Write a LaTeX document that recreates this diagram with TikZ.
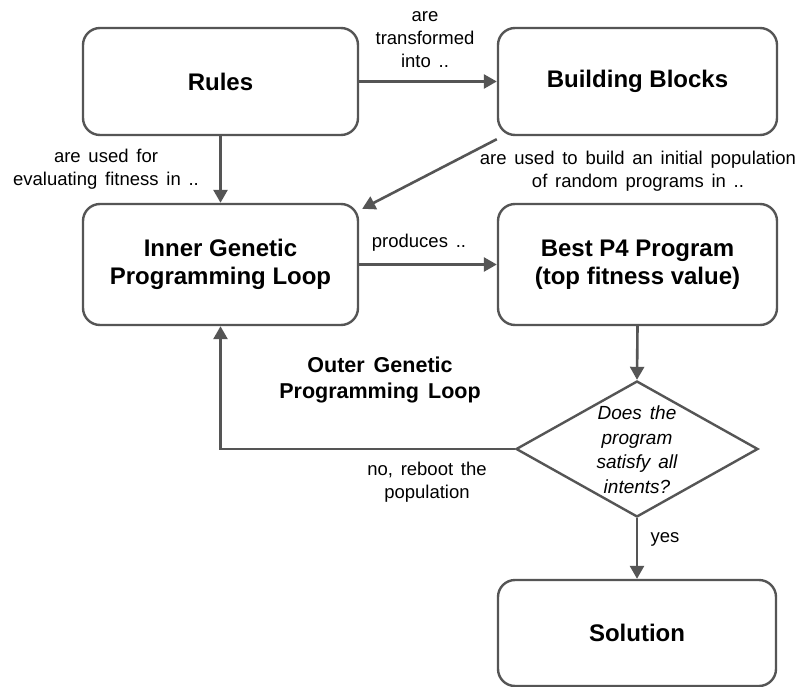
\documentclass[tikz,border=0pt]{standalone}
\usepackage{fontspec}
\setmainfont{Liberation Sans}
\usetikzlibrary{shapes.geometric,arrows.meta}
\definecolor{edgegray}{HTML}{555555}
\newcommand\widewordgap{\spaceskip=0.42em plus 0.1em\relax}
\tikzset{
  every picture/.style={x=1pt,y=-1pt},
  stepbox/.style={draw=edgegray,line width=2.4pt,rounded corners=17pt,
    align=center,font=\fontsize{24}{28}\selectfont\bfseries,inner sep=0pt},
  decision/.style={draw=edgegray,line width=2.4pt,diamond,inner sep=0pt,
    minimum width=242pt,minimum height=136pt},
  flow/.style={draw=edgegray,line width=2.6pt,
    -{Triangle[length=13pt,width=14pt]}},
  note/.style={align=center,inner sep=0pt,
    font=\fontsize{18.5}{23}\selectfont,
    execute at begin node=\widewordgap},
}
\begin{document}
\begin{tikzpicture}
\useasboundingbox (0,0) rectangle (800,687);
\fill[white] (0,0) rectangle (800,687);

% boxes
\node[stepbox,minimum width=275pt,minimum height=107pt] (rules) at (220.5,81.5) {Rules};
\node[stepbox,minimum width=279pt,minimum height=107pt] (blocks) at (637.5,81.5) {Building Blocks};
\node[stepbox,minimum width=275pt,minimum height=121pt] (inner) at (220.5,264.5) {Inner Genetic\\Programming Loop};
\node[stepbox,minimum width=279pt,minimum height=121pt] (best) at (637.5,264.5) {Best P4 Program\\(top fitness value)};
\node[decision] (dec) at (637,449) {};
\node[note,font=\fontsize{19}{24.5}\selectfont\itshape] (dectext) at (637,449.5) {Does the\\program\\satisfy all\\intents?};
\node[stepbox,minimum width=278pt,minimum height=106pt] (sol) at (637,633) {Solution};

% connectors
\draw[flow] (rules.east) -- (blocks.west);
\draw[flow] (rules.south) -- (inner.north);
\draw[flow] ([yshift=-3pt]blocks.south west) -- ([xshift=3pt,yshift=-6pt]inner.north east);
\draw[flow] (inner.east) -- (best.west);
\draw[flow] (best.south) -- (dec.north);
\draw[flow] (dec.south) -- (sol.north);
\draw[flow] (dec.west) -| (inner.south);

% connector labels
\node[note] (ltrans) at (425,40) {are\\transformed\\into ..};
\node[note] (lfit) at (106,169) {are used for\\evaluating fitness in ..};
\node[note] (lbuild) at (638,171.5) {are used to build an initial population\\of random programs in ..};
\node[note] (lprod) at (419,243) {produces ..};
\node[note,font=\fontsize{21.5}{26}\selectfont\bfseries] (louter) at (380,380) {Outer Genetic\\Programming Loop};
\node[note] (lno) at (427,482.5) {no, reboot the\\population};
\node[note] (lyes) at (665,539) {yes};
\end{tikzpicture}
\end{document}
